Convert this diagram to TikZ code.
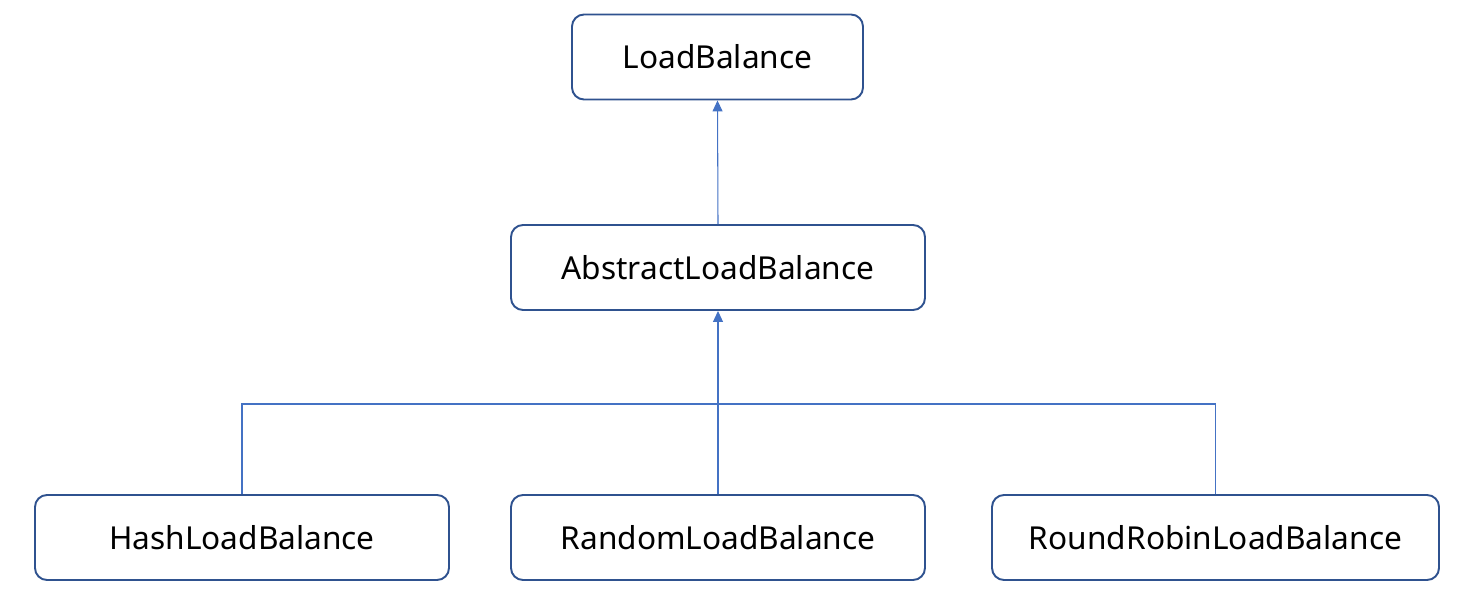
\documentclass[tikz,border=0pt]{standalone}
\usepackage{fontspec}
\setmainfont{Noto Sans}
\usepackage{tikz}
\usetikzlibrary{
  arrows.meta,
  positioning,
  calc
}
\definecolor{borda}{RGB}{47,82,143}
\definecolor{azul}{RGB}{68,114,196}

\begin{document}
\begin{tikzpicture}[
      classe/.style={draw=borda, line width=1.1pt, fill=white, rounded corners=0.24cm, minimum height=1.7cm, align=center, font=\fontsize{18}{22}\selectfont},
      seta/.style={-{Triangle[length=0.22cm, width=0.2cm]}, azul, line width=0.6pt},
      linha/.style={azul, line width=0.6pt}
  ]
      \useasboundingbox (0,0) rectangle (29.3,12.18);

      % Hierarquia
      \node[classe, minimum width=5.82cm] (load) at (14.35, 11.04) {LoadBalance};
      \node[classe, minimum width=8.28cm] (abs) at (14.36, 6.83) {AbstractLoadBalance};
      \node[classe, minimum width=8.28cm] (hash) at (4.84, 1.43) {HashLoadBalance};
      \node[classe, minimum width=8.28cm] (rand) at (14.36, 1.43) {RandomLoadBalance};
      \node[classe, minimum width=8.94cm] (rr) at (24.31, 1.43) {RoundRobinLoadBalance};

      % Heranca
      \coordinate (junc) at (abs.south |- 0, 4.10);
      \draw[seta] (abs.north) -- (load.south);
      \draw[linha] (hash.north) |- (junc) -| (rr.north);
      \draw[seta] (rand.north) -- (abs.south);
  \end{tikzpicture}
\end{document}
